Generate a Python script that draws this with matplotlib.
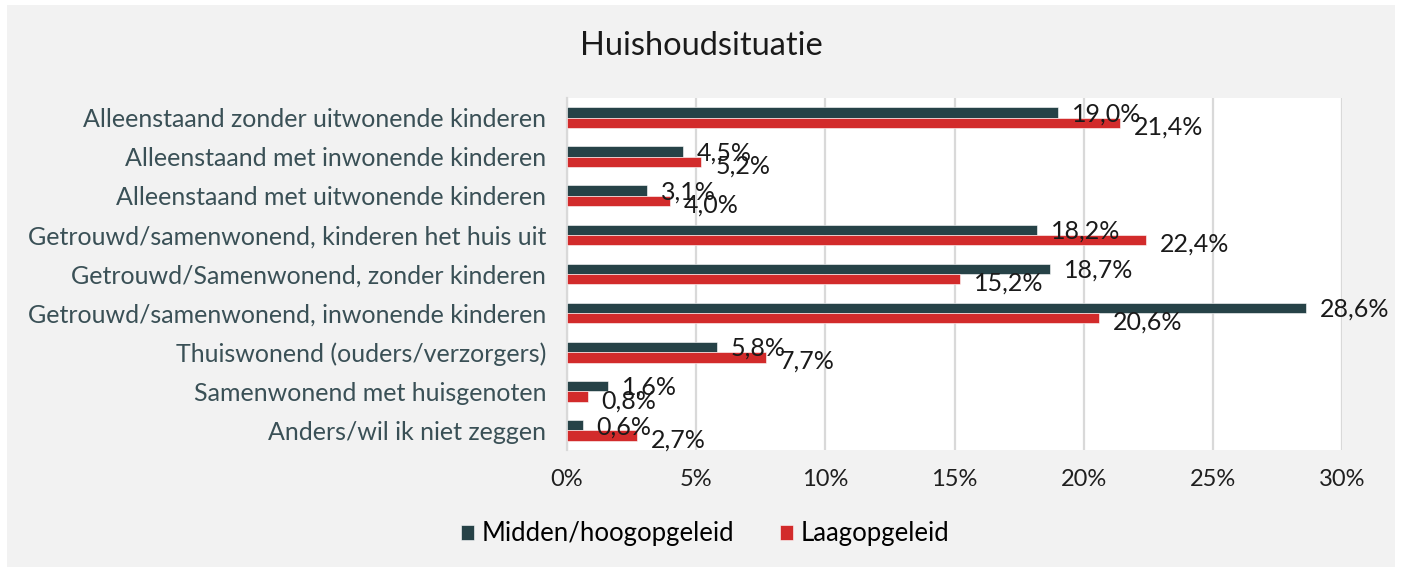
import matplotlib.pyplot as plt
import numpy as np
from matplotlib.patches import Rectangle
from matplotlib.ticker import FuncFormatter

categories = [
    "Alleenstaand zonder uitwonende kinderen",
    "Alleenstaand met inwonende kinderen",
    "Alleenstaand met uitwonende kinderen",
    "Getrouwd/samenwonend, kinderen het huis uit",
    "Getrouwd/Samenwonend, zonder kinderen",
    "Getrouwd/samenwonend, inwonende kinderen",
    "Thuiswonend (ouders/verzorgers)",
    "Samenwonend met huisgenoten",
    "Anders/wil ik niet zeggen",
]
midden_hoog = [19.0, 4.5, 3.1, 18.2, 18.7, 28.6, 5.8, 1.6, 0.6]
laag = [21.4, 5.2, 4.0, 22.4, 15.2, 20.6, 7.7, 0.8, 2.7]
series_names = ["Midden/hoogopgeleid", "Laagopgeleid"]
xticks = [0, 5, 10, 15, 20, 25, 30]

DARK = "#264247"
RED = "#d22b2b"
BG = "#f2f2f2"
GRID = "#d9d9d9"

plt.rcParams["font.family"] = ["Lato", "DejaVu Sans"]

fig = plt.figure(figsize=(14.02, 5.70), dpi=100)
fig.patch.set_facecolor("white")
# grey chart area with a small white margin around it
fig.patches.append(
    Rectangle((7 / 1402, 3 / 570), 1388 / 1402, 562 / 570,
              transform=fig.transFigure, facecolor=BG, edgecolor="none", zorder=-10)
)

ax = fig.add_axes([567 / 1402, 1 - 450 / 570, 775 / 1402, 352 / 570])
ax.set_facecolor("white")

y = np.arange(len(categories))
h = 0.265
ax.barh(y - h / 2, midden_hoog, height=h, color=DARK, edgecolor="white",
        linewidth=0.4, label=series_names[0], zorder=3)
ax.barh(y + h / 2, laag, height=h, color=RED, edgecolor="white",
        linewidth=0.4, label=series_names[1], zorder=3)

for yi, v in zip(y, midden_hoog):
    ax.annotate(f"{v:.1f}%".replace(".", ","), (v, yi - h / 2),
                xytext=(10, -1), textcoords="offset points",
                ha="left", va="center", fontsize=18, color="#1a1a1a", zorder=4)
for yi, v in zip(y, laag):
    ax.annotate(f"{v:.1f}%".replace(".", ","), (v, yi + h / 2),
                xytext=(10, -3), textcoords="offset points",
                ha="left", va="center", fontsize=18, color="#1a1a1a", zorder=4)

ax.set_xlim(0, 30)
ax.set_ylim(len(categories) - 0.5, -0.5)
ax.set_xticks(xticks)
ax.xaxis.set_major_formatter(FuncFormatter(lambda v, _: f"{v:.0f}%"))
ax.set_yticks(y)
ax.set_yticklabels(categories)
ax.tick_params(axis="y", length=0, pad=15, labelsize=18, labelcolor="#3a5056")
ax.tick_params(axis="x", length=0, pad=14, labelsize=17, labelcolor="#1f1f1f")

ax.grid(axis="x", color=GRID, linewidth=1.6, zorder=0)
for side in ["top", "right", "bottom"]:
    ax.spines[side].set_visible(False)
ax.spines["left"].set_color(GRID)
ax.spines["left"].set_linewidth(1.6)

fig.text(0.5, 1 - 46 / 570, "Huishoudsituatie", ha="center", va="center",
         fontsize=23.5, color="#1a1a1a")

fig.legend(loc="center", bbox_to_anchor=(0.503, 1 - 534 / 570), ncol=2,
           frameon=False, fontsize=18.5, handlelength=0.5, handleheight=0.5,
           handletextpad=0.3, columnspacing=1.8)

fig.savefig("out.png", dpi=100, facecolor=fig.get_facecolor())
